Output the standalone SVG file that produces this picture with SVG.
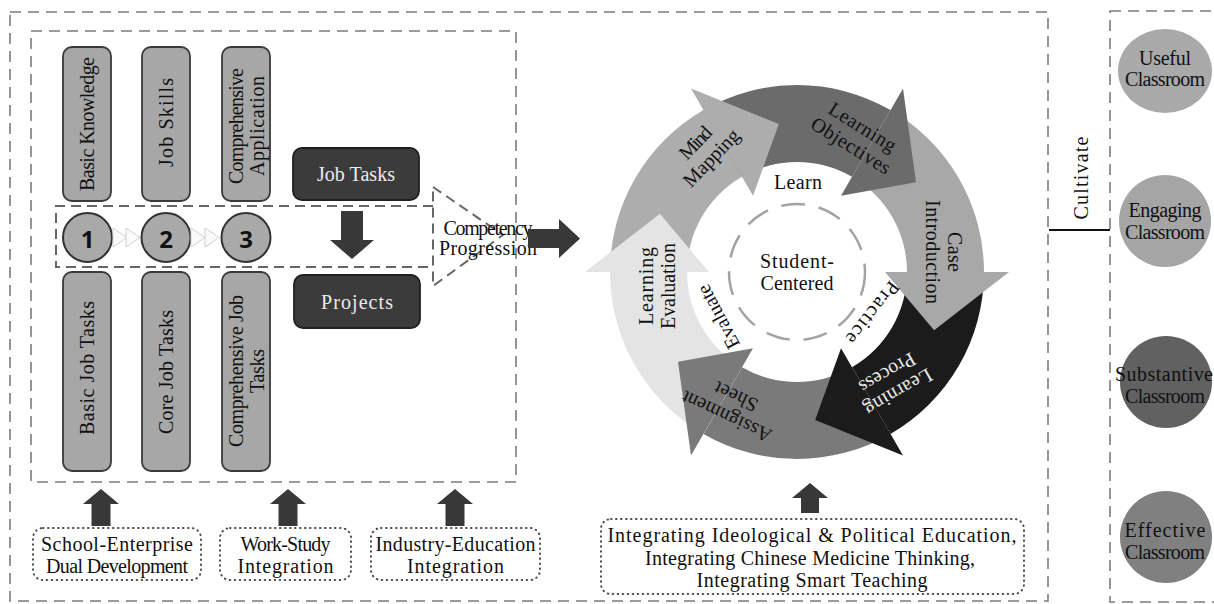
<svg xmlns="http://www.w3.org/2000/svg" width="1214" height="604" viewBox="0 0 1214 604">
<style>
.t{font-family:"Liberation Serif","Times New Roman",serif;font-size:20px;fill:#111;text-anchor:middle;dominant-baseline:central}
.lt{fill:#ececec}
.frame{fill:none;stroke:#7c7c7c;stroke-width:1.6;stroke-dasharray:11 7}
.band{fill:none;stroke:#666;stroke-width:2;stroke-dasharray:10 6}
.dot{fill:#fff;stroke:#4a4a4a;stroke-width:2;stroke-dasharray:0.5 4.5;stroke-linecap:round}
.pill{fill:#a7a7a7;stroke:#3a3a3a;stroke-width:1.8}
.step{fill:#a9a9a9;stroke:#333;stroke-width:2}
.num{font-family:"Open Sans","DejaVu Sans",sans-serif;font-weight:700;font-size:24px;fill:#111;text-anchor:middle;dominant-baseline:central}
.dark{fill:#3b3b3b;stroke:#202020;stroke-width:1.8}
.arrow{fill:#383838}
.chev{fill:#fafafa;stroke:#cfcfcf;stroke-width:1}
</style>

<!-- frames -->
<g id="frames">
  <rect class="frame" x="10" y="12" width="1038" height="589"/>
  <rect class="frame" x="31" y="31" width="485" height="451"/>
  <rect class="frame" x="1110" y="11" width="130" height="591"/>
</g>

<!-- competency band and progression wedge -->
<g id="progression">
  <path class="band" d="M433,206 H56 V267 H433"/>
  <path class="band" d="M433,187 L503,235 L433,286 Z"/>
  <text class="t" x="488" y="228" textLength="89">Competency</text>
  <text class="t" x="488" y="248" textLength="98">Progression</text>
</g>

<!-- knowledge columns -->
<g id="basic-knowledge">
  <rect class="pill" x="63" y="47" width="48" height="154" rx="9"/>
  <text class="t" transform="translate(87,124) rotate(-90)" textLength="134">Basic Knowledge</text>
</g>
<g id="job-skills">
  <rect class="pill" x="142" y="47" width="48" height="154" rx="9"/>
  <text class="t" transform="translate(166,122.5) rotate(-90)" textLength="89">Job Skills</text>
</g>
<g id="comprehensive-application">
  <rect class="pill" x="222" y="47" width="48" height="154" rx="9"/>
  <g transform="translate(246,126) rotate(-90)">
    <text class="t" x="0" y="-10.5" textLength="116">Comprehensive</text>
    <text class="t" x="0" y="10.5" textLength="100">Application</text>
  </g>
</g>
<g id="basic-job-tasks">
  <rect class="pill" x="63" y="272" width="48" height="199" rx="9"/>
  <text class="t" transform="translate(87,368) rotate(-90)" textLength="134">Basic Job Tasks</text>
</g>
<g id="core-job-tasks">
  <rect class="pill" x="142" y="272" width="48" height="199" rx="9"/>
  <text class="t" transform="translate(166,372) rotate(-90)" textLength="124">Core Job Tasks</text>
</g>
<g id="comprehensive-job-tasks">
  <rect class="pill" x="222" y="272" width="48" height="199" rx="9"/>
  <g transform="translate(246,371) rotate(-90)">
    <text class="t" x="0" y="-10.5" textLength="152">Comprehensive Job</text>
    <text class="t" x="0" y="10.5" textLength="44">Tasks</text>
  </g>
</g>

<!-- stage numbers -->
<g id="stage-1"><circle class="step" cx="87.5" cy="237.5" r="24.5"/><text class="num" x="87.5" y="238">1</text></g>
<g id="stage-2"><circle class="step" cx="166" cy="237.5" r="24.5"/><text class="num" x="166" y="238">2</text></g>
<g id="stage-3"><circle class="step" cx="246" cy="237.5" r="24.5"/><text class="num" x="246" y="238">3</text></g>

<g id="job-tasks">
  <rect class="dark" x="293" y="148" width="126" height="52" rx="9"/>
  <text class="t lt" x="356" y="174" textLength="78">Job Tasks</text>
</g>
<g id="projects">
  <rect class="dark" x="294" y="275" width="126" height="53" rx="9"/>
  <text class="t lt" x="357" y="301.5" textLength="72">Projects</text>
</g>

<!-- supporting conditions -->
<g id="school-enterprise">
  <rect class="dot" x="33" y="528" width="168" height="52" rx="10"/>
  <text class="t" x="117" y="544" textLength="152">School-Enterprise</text>
  <text class="t" x="117" y="566" textLength="142">Dual Development</text>
</g>
<g id="work-study">
  <rect class="dot" x="220" y="528" width="131" height="52" rx="10"/>
  <text class="t" x="285.5" y="544" textLength="90">Work-Study</text>
  <text class="t" x="285.5" y="566" textLength="96">Integration</text>
</g>
<g id="industry-education">
  <rect class="dot" x="371" y="528" width="169" height="52" rx="10"/>
  <text class="t" x="455.5" y="544" textLength="160">Industry-Education</text>
  <text class="t" x="455.5" y="566" textLength="97">Integration</text>
</g>
<g id="integrations">
  <rect class="dot" x="601" y="519" width="423" height="75" rx="10"/>
  <text class="t" x="812" y="535" textLength="409">Integrating Ideological &amp; Political Education,</text>
  <text class="t" x="810" y="558" textLength="330">Integrating Chinese Medicine Thinking,</text>
  <text class="t" x="812" y="580" textLength="231">Integrating Smart Teaching</text>
</g>

<!-- teaching cycle -->
<g id="cycle">
  <g id="cycle-bodies">
    <path fill="#adadad" d="M610,272 A187,187 0 0 1 703.5,110.06 L742,176.74 A110,110 0 0 0 687,272 Z"/>
    <path fill="#6b6b6b" d="M703.5,110.06 A187,187 0 0 1 890.5,110.06 L852,176.74 A110,110 0 0 0 742,176.74 Z"/>
    <path fill="#a8a8a8" d="M890.5,110.06 A187,187 0 0 1 984,272 L907,272 A110,110 0 0 0 852,176.74 Z"/>
    <path fill="#1b1b1b" d="M984,272 A187,187 0 0 1 890.5,433.94 L852,367.26 A110,110 0 0 0 907,272 Z"/>
    <path fill="#7a7a7a" d="M890.5,433.94 A187,187 0 0 1 703.5,433.94 L742,367.26 A110,110 0 0 0 852,367.26 Z"/>
    <path fill="#e4e4e4" d="M703.5,433.94 A187,187 0 0 1 610,272 L687,272 A110,110 0 0 0 742,367.26 Z"/>
  </g>
  <g id="cycle-heads">
    <path fill="#adadad" d="M691,88.4 L778.84,124.11 L753,195.79 Z"/>
    <path fill="#6b6b6b" d="M903,88.4 L916,182.33 L841,195.79 Z"/>
    <path fill="#a8a8a8" d="M1009,272 L934.15,330.22 L885,272 Z"/>
    <path fill="#1b1b1b" d="M903,455.6 L815.16,419.89 L841,348.21 Z"/>
    <path fill="#7a7a7a" d="M691,455.6 L678,361.67 L753,348.21 Z"/>
    <path fill="#e4e4e4" d="M585,272 L659.85,213.78 L709,272 Z"/>
  </g>
  <circle cx="797" cy="272" r="68" fill="none" stroke="#a3a3a3" stroke-width="2.5" stroke-dasharray="24 14"/>
  <g id="mind-mapping" transform="translate(703,150) rotate(-46)">
    <text class="t" x="0" y="-11" textLength="38">Mind</text>
    <text class="t" x="0" y="11" textLength="72">Mapping</text>
  </g>
  <g id="learning-objectives" transform="translate(857,136) rotate(32)">
    <text class="t" x="0" y="-11" textLength="76">Learning</text>
    <text class="t" x="0" y="11" textLength="90">Objectives</text>
  </g>
  <g id="case-introduction" transform="translate(944,252) rotate(90)">
    <text class="t" x="0" y="-11" textLength="40">Case</text>
    <text class="t" x="0" y="11" textLength="104">Introduction</text>
  </g>
  <g id="learning-process" transform="translate(893,383) rotate(150)">
    <text class="t lt" x="0" y="-11" textLength="75">Learning</text>
    <text class="t lt" x="0" y="11" textLength="62">Process</text>
  </g>
  <g id="assignment-sheet" transform="translate(731,407) rotate(205)">
    <text class="t" x="0" y="-11" textLength="97">Assignment</text>
    <text class="t" x="0" y="11" textLength="46">Sheet</text>
  </g>
  <g id="learning-evaluation" transform="translate(657,286) rotate(-90)">
    <text class="t" x="0" y="-11" textLength="78">Learning</text>
    <text class="t" x="0" y="11" textLength="86">Evaluation</text>
  </g>
  <text class="t" x="798" y="182" textLength="48">Learn</text>
  <text class="t" transform="translate(873,313) rotate(128)" textLength="74">Practice</text>
  <text class="t" transform="translate(718,317) rotate(-118)" textLength="70">Evaluate</text>
  <g id="student-centered">
    <text class="t" x="797" y="261" textLength="74">Student-</text>
    <text class="t" x="797" y="283" textLength="73">Centered</text>
  </g>
</g>

<!-- classroom outcomes -->
<g id="useful">
  <ellipse cx="1165" cy="71" rx="47" ry="42" fill="#a9a9a9"/>
  <text class="t" x="1165" y="58" textLength="52">Useful</text>
  <text class="t" x="1165" y="79" textLength="80">Classroom</text>
</g>
<g id="engaging">
  <circle cx="1165" cy="221" r="46" fill="#a5a5a5"/>
  <text class="t" x="1165" y="210" textLength="73">Engaging</text>
  <text class="t" x="1165" y="232" textLength="80">Classroom</text>
</g>
<g id="substantive">
  <circle cx="1166" cy="382" r="46" fill="#616161"/>
  <text class="t" x="1164" y="374" textLength="98">Substantive</text>
  <text class="t" x="1165" y="396" textLength="80">Classroom</text>
</g>
<g id="effective">
  <circle cx="1166" cy="537" r="46" fill="#808080"/>
  <text class="t" x="1165" y="530" textLength="81">Effective</text>
  <text class="t" x="1165" y="552" textLength="80">Classroom</text>
</g>

<!-- connectors -->
<g id="connectors">
  <polygon class="chev" points="113,228 127,237.5 113,247"/>
  <polygon class="chev" points="126,228 140,237.5 126,247"/>
  <polygon class="chev" points="191,228 205,237.5 191,247"/>
  <polygon class="chev" points="205,228 219,237.5 205,247"/>
  <path class="arrow" d="M341,211 H363 V240 H374 L352,259 L330,240 H341 Z"/>
  <path class="arrow" d="M528,229 H559 V219 L580,238.5 L559,258 V248 H528 Z"/>
  <path class="arrow" d="M91.5,526 V504 H83 L101,489 L119,504 H110.5 V526 Z"/>
  <path class="arrow" d="M278.5,526 V504 H270 L288,489 L306,504 H297.5 V526 Z"/>
  <path class="arrow" d="M445.5,526 V504 H437 L455,489 L473,504 H464.5 V526 Z"/>
  <path class="arrow" d="M801,513 V498 H792 L810,483 L828,498 H819 V513 Z"/>
  <line x1="1049" y1="230" x2="1110" y2="230" stroke="#111" stroke-width="2"/>
  <text class="t" transform="translate(1081,178) rotate(-90)" textLength="83">Cultivate</text>
</g>
</svg>
